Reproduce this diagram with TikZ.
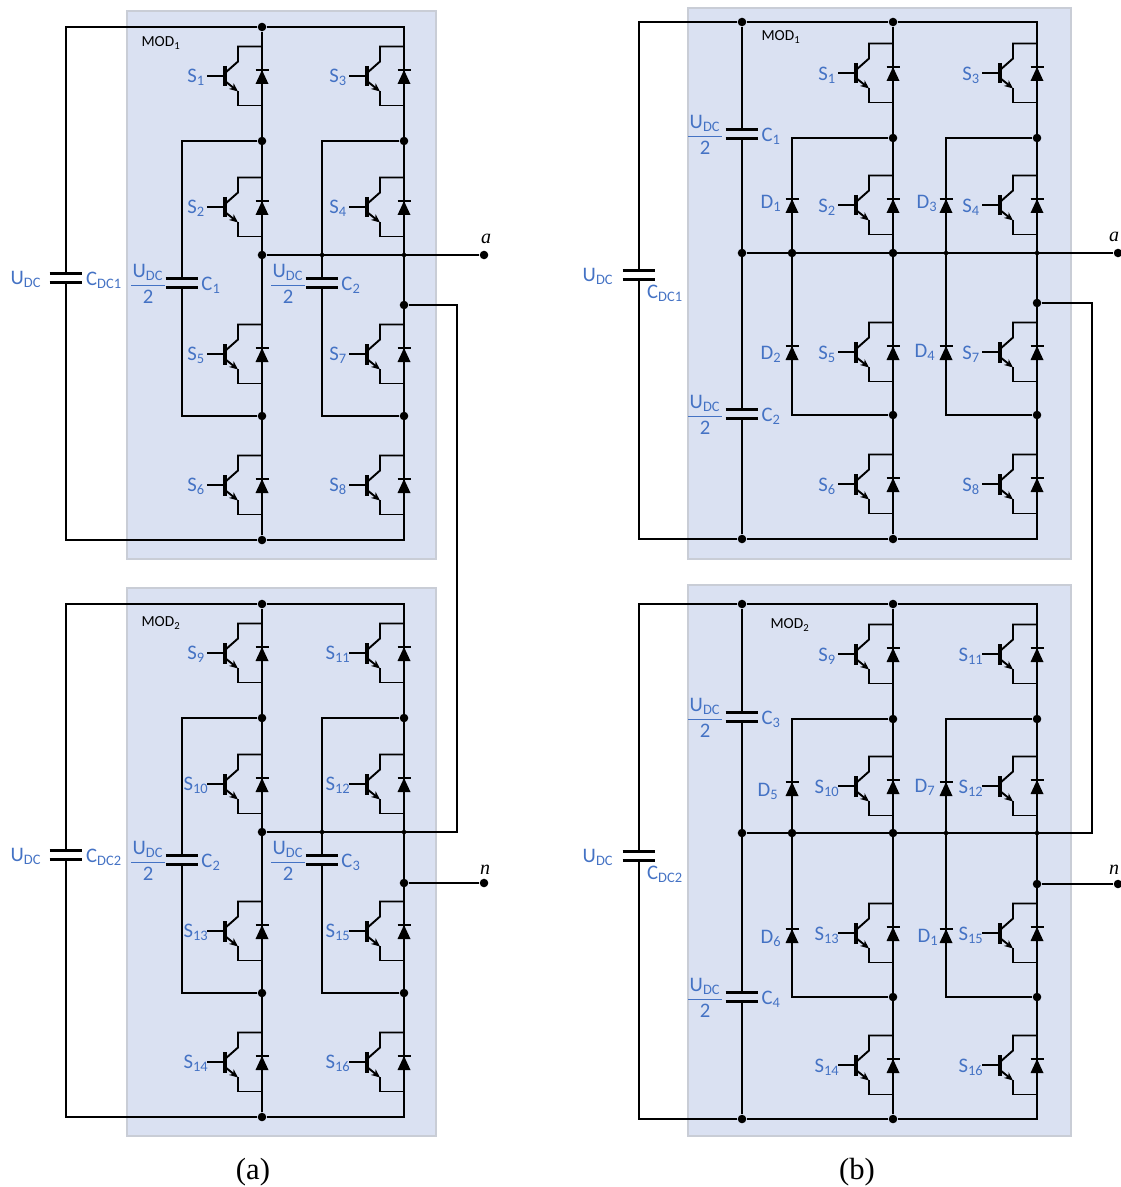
\documentclass[tikz,border=0pt]{standalone}
\usepackage{fontspec}
\setmainfont{Carlito}
\newfontfamily\capfont{Liberation Serif}
\usetikzlibrary{arrows.meta}
\definecolor{modfill}{HTML}{DAE1F2}
\definecolor{modline}{HTML}{C9CDD6}
\definecolor{lblue}{HTML}{4472C4}
\newcommand{\lab}[2]{#1\textsubscript{#2}}
\newcommand{\half}{$\displaystyle\frac{\mbox{\kern1pt\lab{U}{DC}\kern1pt}}{\mbox{2}}$}
\tikzset{
    wire/.style={line width=1.45pt},
    modbox/.style={fill=modfill, draw=modline, line width=0.8pt},
    dot/.style={circle, fill=black, inner sep=0, minimum size=6.4pt},
    tinydot/.style={circle, fill=black, inner sep=0, minimum size=3.4pt},
    lab/.style={text=lblue, inner sep=0, font=\fontsize{15.5}{18}\selectfont},
    modlab/.style={text=black, inner sep=0, font=\fontsize{11.5}{13}\selectfont},
    term/.style={inner sep=0, font=\capfont\itshape\fontsize{15}{18}\selectfont},
    sublab/.style={inner sep=0, font=\capfont\fontsize{23}{27}\selectfont},
    capnode/.style={inner sep=0, minimum width=24pt, minimum height=6.4pt, append after command={
        \pgfextra{\draw[line width=2.5pt] (\tikzlastnode.north west) -- (\tikzlastnode.north east)
            (\tikzlastnode.south west) -- (\tikzlastnode.south east);}}},
    igbt/.pic={
        \draw[wire] (0,-29.5) -- (-24,-29.5) -- (-24,-14.5) -- (-37,-3);
        \draw[wire, -{Stealth[length=6.5pt, width=5.5pt]}] (-37,5) -- (-24,15.5);
        \draw[wire] (-24,15) -- (-24,29.5) -- (0,29.5);
        \draw[wire] (-55,0) -- (-37,0);
        \draw[line width=2.5pt] (-37,-10) -- (-37,10.5);
        \draw[line width=2.2pt] (-6.5,-6) -- (6.5,-6);
        \fill (0,-6) -- (6.5,8) -- (-6.5,8) -- cycle;
    },
    diode/.pic={
        \draw[line width=2.2pt] (-6.5,-6) -- (6.5,-6);
        \fill (0,-6) -- (6.5,8) -- (-6.5,8) -- cycle;
    }
}
\begin{document}
\begin{tikzpicture}[x=0.75pt, y=-0.75pt]
    \useasboundingbox (0,0) rectangle (1120,1187);
    % circuit (a)
    \foreach \m/\dy/\ca/\cb/\ymod in {1/0/1/2/43, 2/577/2/3/623} {
        \draw[modbox] (127,11+\dy) rectangle (436,559+\dy);
        \node[modlab] (Lmod\m) at (161,\ymod) {\lab{MOD}{\m}};
        \node[dot] (L\m-top) at (262,27+\dy) {};
        \node[dot] (L\m-upa) at (262,141+\dy) {};
        \node[dot] (L\m-upb) at (404,141+\dy) {};
        \node[dot] (L\m-mid) at (262,255+\dy) {};
        \node[tinydot] (L\m-mida) at (322,255+\dy) {};
        \node[tinydot] (L\m-midb) at (404,255+\dy) {};
        \node[dot] (L\m-loa) at (262,416+\dy) {};
        \node[dot] (L\m-lob) at (404,416+\dy) {};
        \node[dot] (L\m-bot) at (262,540+\dy) {};
        \coordinate (L\m-tr) at (404,27+\dy);
        \coordinate (L\m-br) at (404,540+\dy);
        \node[capnode] (L\m-dc) at (66,278+\dy) {};
        \node[capnode] (L\m-ca) at (182,283+\dy) {};
        \node[capnode] (L\m-cb) at (322,283+\dy) {};
        \draw[wire] (L\m-top) -| (L\m-dc);
        \draw[wire] (L\m-bot) -| (L\m-dc);
        \draw[wire] (L\m-top) -- (L\m-tr) -- (L\m-br) -- (L\m-bot) -- (L\m-top);
        \draw[wire] (L\m-upa) -| (L\m-ca);
        \draw[wire] (L\m-loa) -| (L\m-ca);
        \draw[wire] (L\m-upb) -| (L\m-cb);
        \draw[wire] (L\m-lob) -| (L\m-cb);
        \node[lab] (Ludc\m) at (26,279+\dy) {\lab{U}{DC}};
        \node[lab] (Lcdc\m) at (104,280+\dy) {\lab{C}{DC\m}};
        \node[lab] (Lha\m) at (148,284+\dy) {\half};
        \node[lab] (Lhb\m) at (288,284+\dy) {\half};
        \node[lab] (Lca\m) at (211,285+\dy) {\lab{C}{\ca}};
        \node[lab] (Lcb\m) at (351,285+\dy) {\lab{C}{\cb}};
        \foreach \n/\x/\y in {1/262/76, 3/404/76, 2/262/207, 4/404/207, 5/262/354, 7/404/354, 6/262/485, 8/404/485} {
            \pgfmathtruncatemacro{\num}{\n+8*(\m-1)}
            \pic at (\x,\y+\dy) {igbt};
            \node[lab] (LS\num) at (\x-66,\y+\dy+1) {\lab{S}{\num}};
        }
    }
    \node[dot] (aL) at (484,255) {};
    \node[dot] (phL) at (404,305) {};
    \node[dot] (nL) at (484,883) {};
    \node[dot] (tieL) at (404,883) {};
    \coordinate (turnL) at (457,832);
    \draw[wire] (L1-mid) -- (aL);
    \draw[wire] (phL) -| (turnL) -- (L2-mid);
    \draw[wire] (tieL) -- (nL);
    \node[term] (aLab) at (486,239) {a};
    \node[term] (nLab) at (485,870) {n};
    % circuit (b)
    \foreach \m/\ytop/\yca/\yup/\ymid/\ycb/\ylo/\ybot/\ydc/\ca/\cb/\xmod/\ymod/\ybox/\yend in {
        1/22/134/138/253/414/415/539/275/1/2/781/37/8/559,
        2/604/717/719/833/997/997/1119/856/3/4/790/625/585/1136} {
        \draw[modbox] (688,\ybox) rectangle (1071,\yend);
        \node[modlab] (Rmod\m) at (\xmod,\ymod) {\lab{MOD}{\m}};
        \node[dot] (R\m-top) at (742,\ytop) {};
        \node[dot] (R\m-topb) at (893,\ytop) {};
        \node[dot] (R\m-upa) at (893,\yup) {};
        \node[dot] (R\m-upb) at (1037,\yup) {};
        \node[dot] (R\m-mid) at (742,\ymid) {};
        \node[dot] (R\m-mida) at (792,\ymid) {};
        \node[dot] (R\m-midb) at (893,\ymid) {};
        \node[tinydot] (R\m-midc) at (946,\ymid) {};
        \node[tinydot] (R\m-midd) at (1037,\ymid) {};
        \node[dot] (R\m-loa) at (893,\ylo) {};
        \node[dot] (R\m-lob) at (1037,\ylo) {};
        \node[dot] (R\m-bot) at (742,\ybot) {};
        \node[dot] (R\m-botb) at (893,\ybot) {};
        \coordinate (R\m-tr) at (1037,\ytop);
        \coordinate (R\m-br) at (1037,\ybot);
        \coordinate (R\m-ua) at (792,\yup);
        \coordinate (R\m-ub) at (946,\yup);
        \coordinate (R\m-la) at (792,\ylo);
        \coordinate (R\m-lb) at (946,\ylo);
        \node[capnode] (R\m-dc) at (639,\ydc) {};
        \node[capnode] (R\m-ca) at (742,\yca) {};
        \node[capnode] (R\m-cb) at (742,\ycb) {};
        \draw[wire] (R\m-top) -| (R\m-dc);
        \draw[wire] (R\m-bot) -| (R\m-dc);
        \draw[wire] (R\m-top) -- (R\m-topb) -- (R\m-tr) -- (R\m-br) -- (R\m-botb) -- (R\m-bot);
        \draw[wire] (R\m-topb) -- (R\m-botb);
        \draw[wire] (R\m-top) -- (R\m-ca);
        \draw[wire] (R\m-ca) -- (R\m-cb);
        \draw[wire] (R\m-cb) -- (R\m-bot);
        \draw[wire] (R\m-upa) -- (R\m-ua) -- (R\m-la) -- (R\m-loa);
        \draw[wire] (R\m-upb) -- (R\m-ub) -- (R\m-lb) -- (R\m-lob);
        \node[lab] (Rha\m) at (705,\yca+1) {\half};
        \node[lab] (Rhb\m) at (705,\ycb+1) {\half};
        \node[lab] (Rca\m) at (771,\yca+2) {\lab{C}{\ca}};
        \node[lab] (Rcb\m) at (771,\ycb+2) {\lab{C}{\cb}};
        \node[lab] (Rudc\m) at (598,\ydc+1) {\lab{U}{DC}};
        \node[lab] (Rcdc\m) at (665,\ydc+18) {\lab{C}{DC\m}};
    }
    \foreach \n/\x/\y in {1/893/73, 3/1037/73, 2/893/205, 4/1037/205, 5/893/352, 7/1037/352, 6/893/484, 8/1037/484,
        9/893/654, 11/1037/654, 10/893/786, 12/1037/786, 13/893/933, 15/1037/933, 14/893/1065, 16/1037/1065} {
        \pic at (\x,\y) {igbt};
        \node[lab] (RS\n) at (\x-66,\y+2) {\lab{S}{\n}};
    }
    \foreach \n/\x/\y/\lx/\ly/\t in {1/792/205/771/203/1, 2/792/352/771/354/2, 3/946/205/927/203/3, 4/946/352/925/352/4,
        5/792/788/768/791/5, 6/792/935/771/938/6, 7/946/788/925/787/7, 8/946/935/928/937/1} {
        \pic at (\x,\y) {diode};
        \node[lab] (RD\n) at (\lx,\ly) {\lab{D}{\t}};
    }
    \node[dot] (aR) at (1118,253) {};
    \node[dot] (phR) at (1037,303) {};
    \node[dot] (nR) at (1118,884) {};
    \node[dot] (tieR) at (1037,884) {};
    \coordinate (turnR) at (1092,833);
    \draw[wire] (R1-mid) -- (aR);
    \draw[wire] (phR) -| (turnR) -- (R2-mid);
    \draw[wire] (tieR) -- (nR);
    \node[term] (aRLab) at (1114,237) {a};
    \node[term] (nRLab) at (1114,870) {n};
    \node[sublab] (subA) at (253,1172) {(a)};
    \node[sublab] (subB) at (857,1172) {(b)};
\end{tikzpicture}
\end{document}
